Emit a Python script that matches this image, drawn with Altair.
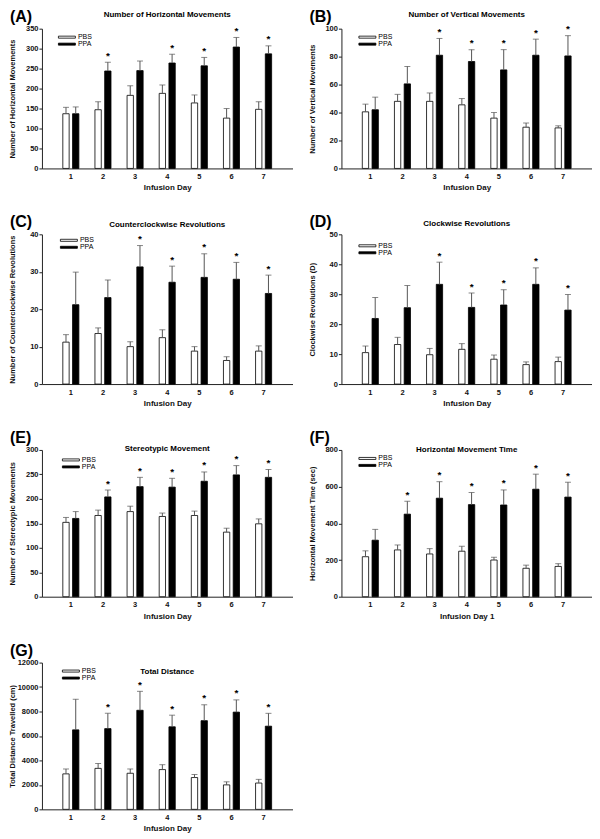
import altair as alt
import pandas as pd

FONT = "Liberation Sans"

days = [1, 2, 3, 4, 5, 6, 7]
groups = ["PBS", "PPA"]

letters = ["(A)", "(B)", "(C)", "(D)", "(E)", "(F)", "(G)"]
titles = ["Number of Horizontal Movements", "Number of Vertical Movements",
          "Counterclockwise Revolutions", "Clockwise Revolutions",
          "Stereotypic Movement", "Horizontal Movement Time", "Total Distance"]
y_titles = ["Number of Horizontal Movements", "Number of Vertical Movements",
            "Number of Counterclockwise Revolutions", "Clockwise Revolutions (D)",
            "Number of Stereotypic Movements", "Horizontal Movement Time (sec)",
            "Total Distance Travelled (cm)"]
x_titles = ["Infusion Day", "Infusion Day", "Infusion Day", "Infusion Day",
            "Infusion Day", "Infusion Day 1", "Infusion Day"]
y_max = [350, 100, 40, 50, 300, 800, 12000]
y_step = [50, 20, 10, 10, 50, 200, 2000]

# (A) Horizontal movements
a_pbs = [137, 147, 183, 188, 164, 126, 148]
a_pbs_err = [16, 20, 24, 21, 20, 24, 19]
a_ppa = [137, 244, 245, 264, 257, 304, 287]
a_ppa_err = [17, 22, 24, 22, 21, 24, 20]
a_stars = [2, 4, 5, 6, 7]
# (B) Vertical movements
b_pbs = [40.5, 48, 48, 45.5, 36, 29.5, 29]
b_pbs_err = [5.5, 5, 6, 4.5, 4, 3, 1.5]
b_ppa = [42, 60.5, 81, 76.5, 70.5, 81, 80.5]
b_ppa_err = [9, 12.5, 12, 8.5, 14.5, 11.5, 14.5]
b_stars = [3, 4, 5, 6, 7]
# (C) Counterclockwise revolutions
c_pbs = [11.2, 13.5, 10, 12.4, 8.8, 6.3, 8.8]
c_pbs_err = [2.0, 1.5, 1.3, 2.1, 1.2, 1.0, 1.4]
c_ppa = [21.2, 23.1, 31.3, 27.2, 28.5, 28, 24.2]
c_ppa_err = [8.7, 4.7, 5.7, 4.3, 6.3, 4.5, 4.9]
c_stars = [3, 4, 5, 6, 7]
# (D) Clockwise revolutions
d_pbs = [10.5, 13.2, 9.8, 11.6, 8.3, 6.5, 7.5]
d_pbs_err = [2.2, 2.4, 2.1, 1.9, 1.4, 0.9, 1.5]
d_ppa = [21.9, 25.5, 33.3, 25.6, 26.4, 33.3, 24.7]
d_ppa_err = [7.0, 7.4, 7.4, 4.8, 5.1, 5.5, 5.2]
d_stars = [3, 4, 5, 6, 7]
# (E) Stereotypic movement
e_pbs = [152, 166, 174, 164, 166, 132, 149]
e_pbs_err = [10, 11, 11, 7, 9, 8, 10]
e_ppa = [160, 204, 225, 224, 236, 249, 244]
e_ppa_err = [14, 14, 19, 18, 19, 19, 16]
e_stars = [2, 3, 4, 5, 6, 7]
# (F) Horizontal movement time
f_pbs = [218, 255, 233, 248, 200, 155, 165]
f_pbs_err = [32, 27, 29, 27, 15, 17, 15]
f_ppa = [308, 450, 537, 502, 500, 586, 543]
f_ppa_err = [59, 70, 90, 66, 82, 82, 81]
f_stars = [2, 3, 4, 5, 6, 7]
# (G) Total distance
g_pbs = [2900, 3350, 2950, 3250, 2600, 2000, 2150]
g_pbs_err = [400, 400, 350, 400, 250, 250, 300]
g_ppa = [6500, 6600, 8100, 6750, 7250, 7950, 6800]
g_ppa_err = [2500, 1250, 1550, 950, 1300, 1000, 1050]
g_stars = [2, 3, 4, 5, 6, 7]

series = [
    (a_pbs, a_pbs_err, a_ppa, a_ppa_err, a_stars),
    (b_pbs, b_pbs_err, b_ppa, b_ppa_err, b_stars),
    (c_pbs, c_pbs_err, c_ppa, c_ppa_err, c_stars),
    (d_pbs, d_pbs_err, d_ppa, d_ppa_err, d_stars),
    (e_pbs, e_pbs_err, e_ppa, e_ppa_err, e_stars),
    (f_pbs, f_pbs_err, f_ppa, f_ppa_err, f_stars),
    (g_pbs, g_pbs_err, g_ppa, g_ppa_err, g_stars),
]

# layout / style per panel
PANEL_W = 251
heights = [140, 140, 150, 150, 147, 147, 147]
title_y = [-12, -12, -7, -8, 1, 2, 11]
legend_x = [21, 22, 23, 22, 25, 22, 25]
legend_y = [4.5, 4.5, 2, 7.5, 6, 4.5, 4.5]


def panel(i):
    pbs, pbs_err, ppa, ppa_err, stars = series[i]
    rows = []
    for d, m, e in zip(days, pbs, pbs_err):
        rows.append(dict(day=d, group="PBS", mean=m, top=m + e, star=""))
    for d, m, e in zip(days, ppa, ppa_err):
        rows.append(dict(day=d, group="PPA", mean=m, top=m + e,
                         star="*" if d in stars else ""))
    df = pd.DataFrame(rows)

    x_scale = alt.Scale(domain=days, paddingInner=0.5, paddingOuter=0.65)
    xo_scale = alt.Scale(domain=groups, paddingInner=0.35)
    y_scale = alt.Scale(domain=[0, y_max[i]], nice=False)

    x_axis = alt.Axis(title=x_titles[i], labelAngle=0, ticks=False,
                      labelPadding=4, titlePadding=4, titleFontSize=8)
    y_axis = alt.Axis(title=y_titles[i], format="d",
                      values=list(range(0, y_max[i] + 1, y_step[i])),
                      tickSize=3, labelPadding=1, titleX=-25)

    enc = dict(
        x=alt.X("day:O", scale=x_scale, axis=x_axis),
        xOffset=alt.XOffset("group:N", scale=xo_scale),
    )
    bars = alt.Chart(df).mark_bar(stroke="black", strokeWidth=0.8).encode(
        y=alt.Y("mean:Q", scale=y_scale, axis=y_axis),
        fill=alt.Fill("group:N",
                      scale=alt.Scale(domain=groups, range=["white", "black"]),
                      legend=alt.Legend(
                          title=None, orient="none",
                          legendX=legend_x[i], legendY=legend_y[i],
                          symbolType="M-2.43,-0.29L2.43,-0.29L2.43,0.29L-2.43,0.29Z",
                          symbolSize=49, symbolStrokeColor="black",
                          symbolStrokeWidth=0.8, labelFontSize=7,
                          labelFont=FONT, rowPadding=0, labelOffset=7,
                          padding=0)),
        **enc,
    )
    rules = alt.Chart(df).mark_rule(color="#555", strokeWidth=1).encode(
        y=alt.Y("mean:Q", scale=y_scale, axis=y_axis), y2="top:Q", **enc)
    caps = alt.Chart(df).mark_tick(orient="horizontal", size=6, thickness=1,
                                   color="#555").encode(
        y=alt.Y("top:Q", scale=y_scale, axis=y_axis), **enc)
    star_txt = alt.Chart(df).mark_text(fontSize=10, fontWeight="bold", font=FONT,
                                       baseline="alphabetic", dy=-3.5,
                                       color="black").encode(
        y=alt.Y("top:Q", scale=y_scale, axis=y_axis), text="star:N", **enc)
    labels = pd.DataFrame({"letter": [letters[i]], "title": [titles[i]]})
    letter = alt.Chart(labels).mark_text(
        align="left", baseline="top", fontSize=16, fontWeight="bold",
        font=FONT, color="black").encode(
        x=alt.value(-32), y=alt.value(-20), text="letter:N")
    head = alt.Chart(labels).mark_text(
        align="center", baseline="alphabetic", fontSize=8, fontWeight="bold",
        font=FONT, color="black").encode(
        x=alt.value(PANEL_W / 2), y=alt.value(title_y[i]), text="title:N")

    return alt.layer(bars, rules, caps, star_txt, letter, head).properties(
        width=PANEL_W, height=heights[i],
    )


chart = alt.concat(
    *[panel(i) for i in range(7)],
    columns=2, spacing={"row": 66, "column": 49}, bounds="flush",
).resolve_scale(
    x="independent", y="independent", fill="independent", xOffset="independent"
).resolve_legend(fill="independent").properties(
    padding=0
).configure_view(stroke=None).configure_axis(
    labelFont=FONT, titleFont=FONT, labelFontSize=7.5, titleFontSize=7.5,
    labelFontWeight="bold", titleFontWeight="bold", labelColor="#111",
    titleColor="#111", domainColor="#222", tickColor="#222", grid=False,
    domainWidth=1,
)

chart.save("out.html", embed_options={"renderer": "svg", "actions": False})
